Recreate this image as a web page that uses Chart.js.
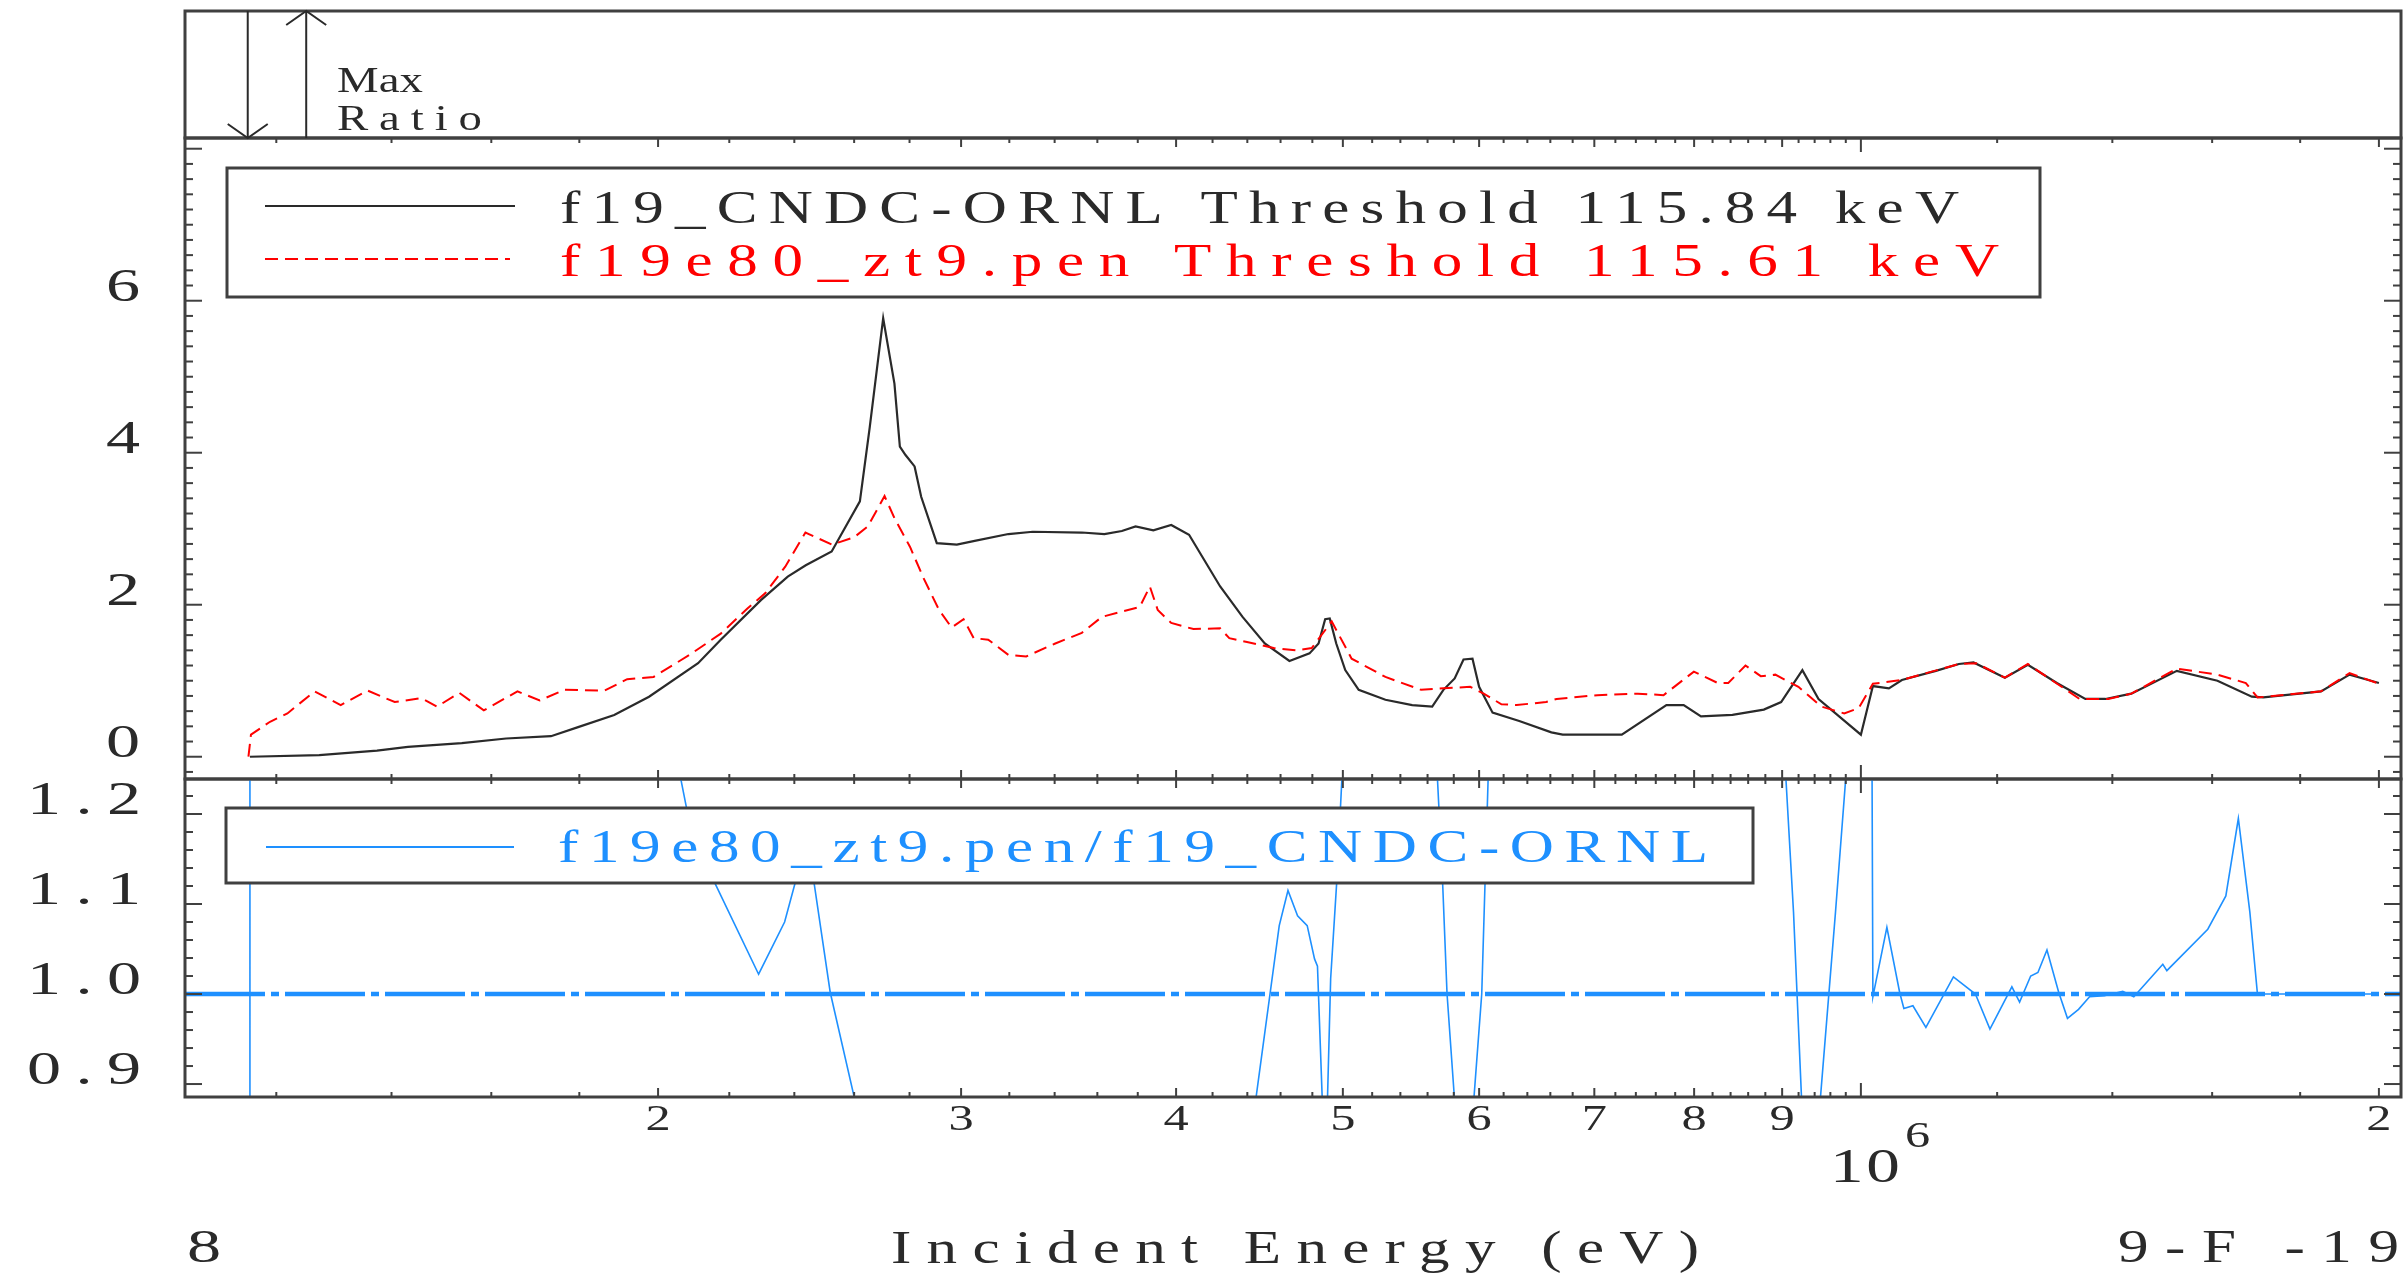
<!DOCTYPE html>
<html>
<head>
<meta charset="utf-8">
<title>9-F-19 cross section comparison</title>
<script src="https://cdn.jsdelivr.net/npm/chart.js@4.4.1/dist/chart.umd.min.js"></script>
<style>
  html, body { margin: 0; padding: 0; background: #fff; }
  #wrap { position: relative; width: 2405px; height: 1276px; }
  #wrap canvas { position: absolute; left: 0; top: 0; }
</style>
</head>
<body>
<div id="wrap">
  <canvas id="xsChart" width="2405" height="1276"></canvas>
  <canvas id="ratioChart" width="2405" height="1276"></canvas>
</div>
<script>
// incident energies in keV, cross sections as plotted
const cndcEnergy = [115.84, 127.1, 137.3, 143.1, 153.8, 163.2, 173.3, 179.7, 188.6, 197.6,
  211.0, 217.5, 229.5, 237.9, 243.7, 252.3, 262.0, 265.5, 270.3, 274.4,
  276.4, 278.5, 281.9, 284.4, 290.4, 298.3, 305.5, 319.6, 330.2, 352.6,
  363.4, 372.0, 378.9, 388.0, 397.4, 407.0, 424.3, 437.2, 450.4, 465.5,
  478.2, 484.0, 488.3, 491.3, 495.6, 501.6, 510.7, 529.3, 548.6, 563.5,
  572.0, 580.7, 587.6, 594.7, 600.0, 610.9, 633.1, 660.9, 671.0, 726.2,
  770.9, 788.9, 807.4, 842.1, 878.2, 898.8, 924.7, 944.9, 1000.0, 1016.2,
  1038.2, 1056.4, 1105.5, 1140.1, 1162.6, 1212.5, 1250.4, 1299.8, 1350.3, 1387.1,
  1436.0, 1526.2, 1611.4, 1687.3, 1713.5, 1850.8, 1923.0, 2000.0];
const cndcXs = [0.0, 0.02, 0.08, 0.13, 0.18, 0.24, 0.27, 0.39, 0.55, 0.79,
  1.23, 1.54, 2.06, 2.37, 2.52, 2.70, 3.36, 4.34, 5.77, 4.91,
  4.08, 3.97, 3.82, 3.42, 2.81, 2.79, 2.84, 2.93, 2.96, 2.95,
  2.93, 2.97, 3.03, 2.98, 3.05, 2.92, 2.24, 1.84, 1.49, 1.26,
  1.36, 1.49, 1.81, 1.82, 1.49, 1.14, 0.88, 0.75, 0.68, 0.66,
  0.88, 1.03, 1.28, 1.29, 0.92, 0.58, 0.47, 0.32, 0.29, 0.29,
  0.68, 0.68, 0.53, 0.55, 0.62, 0.72, 1.14, 0.76, 0.29, 0.93,
  0.90, 1.01, 1.13, 1.22, 1.24, 1.04, 1.21, 0.97, 0.76, 0.76,
  0.83, 1.13, 1.00, 0.79, 0.78, 0.86, 1.08, 0.97];

const penEnergy = [115.61, 116.0, 119.0, 121.8, 126.3, 130.8, 135.6, 140.6, 145.7, 148.8,
  153.3, 158.4, 165.7, 170.7, 176.4, 186.2, 191.9, 198.8, 208.6, 217.5,
  225.4, 230.8, 237.1, 243.6, 252.4, 260.1, 264.8, 270.8, 274.4, 280.2,
  285.3, 291.3, 296.2, 301.0, 305.1, 311.1, 319.6, 327.3, 340.3, 352.6,
  362.2, 372.1, 381.0, 386.2, 390.3, 397.4, 409.4, 424.3, 429.5, 439.8,
  455.8, 469.7, 479.6, 492.6, 505.9, 529.3, 555.2, 572.0, 592.9, 603.7,
  618.2, 630.9, 656.2, 665.6, 702.8, 742.0, 767.9, 799.7, 825.7, 837.4,
  856.9, 874.6, 891.8, 919.8, 948.5, 978.0, 997.1, 1016.2, 1056.4, 1140.1,
  1167.1, 1212.5, 1250.4, 1340.0, 1392.5, 1436.0, 1526.2, 1611.4, 1673.8, 1700.2,
  1850.8, 1923.0, 2000.0];
const penXs = [0.0, 0.29, 0.46, 0.57, 0.86, 0.68, 0.87, 0.72, 0.77, 0.66,
  0.84, 0.61, 0.86, 0.74, 0.88, 0.87, 1.02, 1.05, 1.34, 1.62,
  1.95, 2.15, 2.50, 2.95, 2.79, 2.89, 3.03, 3.43, 3.14, 2.76,
  2.35, 1.93, 1.70, 1.81, 1.56, 1.54, 1.34, 1.32, 1.49, 1.63,
  1.84, 1.91, 1.97, 2.24, 1.93, 1.76, 1.68, 1.69, 1.56, 1.51,
  1.43, 1.40, 1.43, 1.78, 1.29, 1.05, 0.88, 0.90, 0.92, 0.83,
  0.69, 0.68, 0.72, 0.76, 0.81, 0.83, 0.81, 1.12, 0.97, 0.97,
  1.20, 1.06, 1.08, 0.92, 0.66, 0.57, 0.64, 0.96, 1.01, 1.22,
  1.23, 1.04, 1.22, 0.76, 0.76, 0.83, 1.16, 1.08, 0.97, 0.78,
  0.86, 1.10, 0.96];

// pen / CNDC ratio; values outside 0.886..1.239 run off the panel
const ratioEnergy = [115.84, 115.84, 203.2, 207.8, 215.7, 228.8, 236.9, 240.3, 243.4, 246.4,
  251.8, 260.2, 269.1, 435.5, 459.2, 464.6, 470.6, 476.7, 481.4, 483.3,
  487.1, 489.3, 491.9, 495.9, 501.2, 565.4, 571.4, 574.8, 582.2, 594.0,
  602.1, 608.6, 900.8, 913.8, 925.3, 944.1, 966.6, 985.4, 1014.8, 1016.2,
  1035.4, 1053.2, 1059.2, 1072.1, 1090.9, 1131.8, 1165.6, 1188.5, 1223.9, 1236.6,
  1255.1, 1267.3, 1282.7, 1303.0, 1318.4, 1338.1, 1358.0, 1385.2, 1419.7, 1440.8,
  1497.8, 1505.9, 1590.7, 1629.6, 1657.1, 1682.8, 1700.0, 2000.0];
const ratioValues = [0.5, 3.0, 1.30, 1.206, 1.124, 1.022, 1.080, 1.124, 1.16, 1.124,
  1.002, 0.883, 0.70, 0.75, 1.076, 1.115, 1.087, 1.076, 1.039, 1.031,
  0.85, 0.85, 1.017, 1.124, 1.30, 1.30, 1.124, 1.0, 0.85, 0.85,
  1.0, 1.30, 1.30, 1.091, 0.85, 0.85, 1.091, 1.30, 1.30, 0.997,
  1.074, 1.002, 0.984, 0.987, 0.963, 1.019, 1.000, 0.961, 1.008, 0.991,
  1.020, 1.024, 1.049, 1.002, 0.973, 0.983, 0.997, 0.998, 1.003, 0.997,
  1.033, 1.026, 1.072, 1.109, 1.195, 1.091, 1.000, 1.000];

// max ratio markers in the top strip (keV)
const maxRatioDown = 115.5;
const maxRatioUp = 124.9;

// axis ranges and labelled ticks
const xMin = 1.062e5, xMax = 2.06e6;
const yMainMin = -0.293, yMainMax = 8.141;
const yRatioMin = 0.8856, yRatioMax = 1.2389;
const xLabelValues = [2e5, 3e5, 4e5, 5e5, 6e5, 7e5, 8e5, 9e5, 2e6];
const xLabelTexts = ['2', '3', '4', '5', '6', '7', '8', '9', '2'];
const yMainLabels = [0, 2, 4, 6];
const yRatioLabels = [0.9, 1.0, 1.1, 1.2];

const legendMain = ['f19_CNDC-ORNL Threshold 115.84 keV', 'f19e80_zt9.pen Threshold 115.61 keV'];
const legendRatio = 'f19e80_zt9.pen/f19_CNDC-ORNL';

const SERIF = '"Liberation Serif", "DejaVu Serif", serif';
const FRAME = '#404040';
const INK = '#2a2a2a';
const RED = '#ff0000';
const BLUE = '#1e90ff';

// x ticks: minor every 0.2 of the decade, longer at whole multiples
const xTicks = [];
for (let k = 6; k <= 49; k++) xTicks.push({ v: k * 2e4, kind: k % 5 === 0 ? 'major' : 'minor' });
xTicks.push({ v: 1e6, kind: 'decade' });
for (let k = 6; k <= 10; k++) xTicks.push({ v: k * 2e5, kind: k % 5 === 0 ? 'major' : 'minor' });

const yMainTicks = [];
for (let k = -1; k <= 40; k++) yMainTicks.push({ v: k * 0.2, major: k % 10 === 0 });
const yRatioTicks = [];
for (let k = 45; k <= 61; k++) yRatioTicks.push({ v: k * 0.02, major: k % 5 === 0 });

function toPoints(energy, values) {
  return energy.map((e, i) => ({ x: e * 1000, y: values[i] }));
}

// wide plotter-style text: glyphs stretched by sx, then spaced out to fill width
function fitText(ctx, text, x, y, size, width, align, color, sx) {
  sx = sx || 1.3;
  ctx.save();
  ctx.font = size + 'px ' + SERIF;
  ctx.fillStyle = color;
  ctx.textAlign = 'left';
  ctx.textBaseline = 'alphabetic';
  ctx.letterSpacing = '0px';
  const natural = ctx.measureText(text).width;
  let spacing = 0;
  let w = natural * sx;
  if (width && text.length > 1) {
    spacing = Math.max(0, (width / sx - natural) / (text.length - 1));
    w = sx * (natural + spacing * (text.length - 1));
  }
  ctx.letterSpacing = spacing + 'px';
  let x0 = x;
  if (align === 'center') x0 = x - w / 2;
  if (align === 'right') x0 = x - w;
  ctx.translate(x0, y);
  ctx.scale(sx, 1);
  ctx.fillText(text, 0, 0);
  ctx.restore();
}

function line(ctx, x1, y1, x2, y2) {
  ctx.beginPath();
  ctx.moveTo(x1, y1);
  ctx.lineTo(x2, y2);
  ctx.stroke();
}

function drawXTicks(ctx, xs, y, dir) {
  ctx.save();
  ctx.strokeStyle = FRAME;
  ctx.lineWidth = 2;
  xTicks.forEach(t => {
    if (t.v <= xMin || t.v >= xMax) return;
    const px = xs.getPixelForValue(t.v);
    const len = t.kind === 'decade' ? 14 : (t.kind === 'major' ? 9 : 5);
    line(ctx, px, y, px, y + dir * len);
  });
  ctx.restore();
}

function drawYTicks(ctx, ys, area, ticks) {
  ctx.save();
  ctx.strokeStyle = FRAME;
  ctx.lineWidth = 2;
  ticks.forEach(t => {
    const py = ys.getPixelForValue(t.v);
    if (py < area.top || py > area.bottom) return;
    const len = t.major ? 17 : 8;
    line(ctx, area.left, py, area.left + len, py);
    line(ctx, area.right, py, area.right - len, py);
  });
  ctx.restore();
}

function drawFrame(ctx, a) {
  ctx.save();
  ctx.strokeStyle = FRAME;
  ctx.lineWidth = 3;
  ctx.strokeRect(a.left, a.top, a.right - a.left, a.bottom - a.top);
  ctx.restore();
}

function legendBox(ctx, x, y, w, h) {
  ctx.save();
  ctx.fillStyle = '#fff';
  ctx.fillRect(x, y, w, h);
  ctx.strokeStyle = FRAME;
  ctx.lineWidth = 3;
  ctx.strokeRect(x, y, w, h);
  ctx.restore();
}

function arrow(ctx, x, yFrom, yTo) {
  const dir = yTo > yFrom ? 1 : -1;
  line(ctx, x, yFrom, x, yTo);
  ctx.beginPath();
  ctx.moveTo(x - 20, yTo - dir * 14);
  ctx.lineTo(x, yTo);
  ctx.lineTo(x + 20, yTo - dir * 14);
  ctx.stroke();
}

// frame, ticks, top strip and legend of the cross section panel
const xsDecor = {
  id: 'xsDecor',
  beforeDraw(chart) {
    const ctx = chart.ctx;
    ctx.save();
    ctx.fillStyle = '#fff';
    ctx.fillRect(0, 0, chart.width, chart.height);
    ctx.restore();
  },
  afterDraw(chart) {
    const ctx = chart.ctx;
    const a = chart.chartArea;
    const xs = chart.scales.x, ys = chart.scales.y;

    drawFrame(ctx, a);
    drawXTicks(ctx, xs, a.top, 1);
    drawXTicks(ctx, xs, a.bottom, -1);
    drawYTicks(ctx, ys, a, yMainTicks);
    yMainLabels.forEach(v => {
      fitText(ctx, String(v), 140, ys.getPixelForValue(v), 47, 0, 'right', INK, 1.45);
    });

    // max ratio strip
    const stripTop = 11;
    ctx.save();
    ctx.strokeStyle = FRAME;
    ctx.lineWidth = 3;
    ctx.strokeRect(a.left, stripTop, a.right - a.left, a.top - stripTop);
    ctx.lineWidth = 2;
    ctx.strokeStyle = INK;
    arrow(ctx, xs.getPixelForValue(maxRatioDown * 1000), stripTop, a.top);
    arrow(ctx, xs.getPixelForValue(maxRatioUp * 1000), a.top, stripTop);
    ctx.restore();
    fitText(ctx, 'Max', 337, 92, 36, 86, 'left', INK);
    fitText(ctx, 'Ratio', 337, 130, 36, 145, 'left', INK);

    // legend
    legendBox(ctx, 227, 168, 1813, 129);
    ctx.save();
    ctx.lineWidth = 2.2;
    ctx.strokeStyle = INK;
    line(ctx, 265, 206, 515, 206);
    ctx.strokeStyle = RED;
    ctx.lineWidth = 2;
    ctx.setLineDash([13, 7]);
    line(ctx, 265, 259, 510, 259);
    ctx.restore();
    fitText(ctx, legendMain[0], 560, 223, 47, 1399, 'left', INK);
    fitText(ctx, legendMain[1], 560, 276, 47, 1439, 'left', RED);
  }
};

// frame, ticks, energy axis labels and legend of the ratio panel
const ratioDecor = {
  id: 'ratioDecor',
  afterDraw(chart) {
    const ctx = chart.ctx;
    const a = chart.chartArea;
    const xs = chart.scales.x, ys = chart.scales.y;

    drawFrame(ctx, a);
    drawXTicks(ctx, xs, a.top, 1);
    drawXTicks(ctx, xs, a.bottom, -1);
    drawYTicks(ctx, ys, a, yRatioTicks);
    yRatioLabels.forEach(v => {
      fitText(ctx, v.toFixed(1), 141, ys.getPixelForValue(v), 47, 114, 'right', INK, 1.45);
    });

    xLabelValues.forEach((v, i) => {
      fitText(ctx, xLabelTexts[i], xs.getPixelForValue(v), 1130, 36, 0, 'center', INK, 1.4);
    });
    const decadeX = xs.getPixelForValue(1e6);
    fitText(ctx, '10', decadeX + 4, 1182, 48, 70, 'center', INK, 1.4);
    fitText(ctx, '6', decadeX + 44, 1147, 36, 0, 'left', INK, 1.4);

    fitText(ctx, '8', 187, 1262, 47, 0, 'left', INK, 1.45);
    fitText(ctx, 'Incident Energy (eV)', 891, 1263, 47, 808, 'left', INK);
    fitText(ctx, '9-F -19', 2399, 1262, 47, 281, 'right', INK);

    legendBox(ctx, 226, 808, 1527, 75);
    ctx.save();
    ctx.strokeStyle = BLUE;
    ctx.lineWidth = 2;
    line(ctx, 266, 847, 514, 847);
    ctx.restore();
    fitText(ctx, legendRatio, 558, 862, 47, 1150, 'left', BLUE);
  }
};

const sharedOptions = {
  responsive: false,
  animation: false,
  devicePixelRatio: 1,
  plugins: { legend: { display: false }, tooltip: { enabled: false } },
  elements: { point: { radius: 0 }, line: { tension: 0 } }
};

new Chart(document.getElementById('xsChart'), {
  type: 'line',
  data: {
    datasets: [
      {
        label: 'f19e80_zt9.pen',
        data: toPoints(penEnergy, penXs),
        borderColor: RED,
        borderWidth: 2,
        borderDash: [13, 7],
        order: 0
      },
      {
        label: 'f19_CNDC-ORNL',
        data: toPoints(cndcEnergy, cndcXs),
        borderColor: INK,
        borderWidth: 2.2,
        order: 1
      }
    ]
  },
  options: Object.assign({}, sharedOptions, {
    layout: { padding: { left: 185, right: 4, top: 138, bottom: 497 } },
    scales: {
      x: { type: 'logarithmic', min: xMin, max: xMax, display: false },
      y: { type: 'linear', min: yMainMin, max: yMainMax, display: false }
    }
  }),
  plugins: [xsDecor]
});

new Chart(document.getElementById('ratioChart'), {
  type: 'line',
  data: {
    datasets: [
      {
        label: 'unity',
        data: [{ x: xMin, y: 1 }, { x: xMax, y: 1 }],
        borderColor: BLUE,
        borderWidth: 4.5,
        borderDash: [80, 6, 8, 6],
        order: 0
      },
      {
        label: legendRatio,
        data: toPoints(ratioEnergy, ratioValues),
        borderColor: BLUE,
        borderWidth: 1.6,
        order: 1
      }
    ]
  },
  options: Object.assign({}, sharedOptions, {
    layout: { padding: { left: 185, right: 4, top: 779, bottom: 179 } },
    scales: {
      x: { type: 'logarithmic', min: xMin, max: xMax, display: false },
      y: { type: 'linear', min: yRatioMin, max: yRatioMax, display: false }
    }
  }),
  plugins: [ratioDecor]
});
</script>
</body>
</html>
